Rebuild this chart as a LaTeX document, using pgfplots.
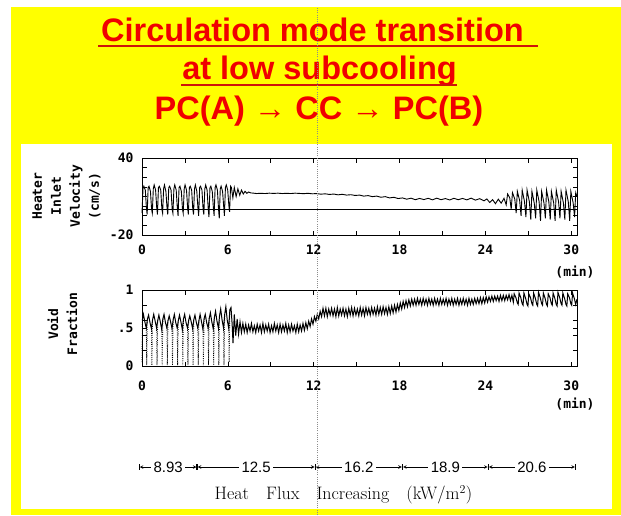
\documentclass[border=0pt]{standalone}
\usepackage{pgfplots}
\pgfplotsset{compat=1.18}
\usepackage{fontspec}
\newfontfamily\titlefont{Liberation Sans}
\newfontfamily\monofont{DejaVu Sans Mono}
\newfontfamily\hfsans{Liberation Sans}
\definecolor{yellowbg}{RGB}{255,255,0}
\definecolor{titlered}{RGB}{240,0,0}
\definecolor{ulred}{RGB}{205,20,10}
\newcommand\tickfont{\monofont\bfseries\fontsize{13}{15}\selectfont}
\newcommand\labfont{\monofont\bfseries\fontsize{13}{19}\selectfont}
\pgfplotsset{
  chartax/.style={
    scale only axis, width=435pt,
    xmin=0, xmax=30.4,
    xtick={0,6,12,18,24,30}, xticklabels={0,6,12,18,24,30},
    minor xtick={3,9,15,21,27},
    tick align=inside,
    major tick length=4.5pt, minor tick length=4.5pt,
    tick style={black, line width=0.7pt},
    axis line style={black, line width=0.9pt},
    ticklabel style={font=\tickfont},
    yticklabel style={xshift=-5pt},
    clip=false,
    unbounded coords=jump,
  }
}
\begin{document}
\begin{tikzpicture}[x=1pt,y=1pt]
\useasboundingbox (0,0) rectangle (621,515);
\fill[white] (0,0) rectangle (621,515);
\fill[yellowbg] (11,0) rectangle (621,508);
\fill[white] (21,6) rectangle (612,371);
% title
\node[anchor=base, inner sep=0, text=titlered, font=\titlefont\bfseries\fontsize{32.5}{38}\selectfont] at (312.5,473) {Circulation mode transition};
\draw[ulred, line width=2.5pt] (98,469) -- (538,469);
\node[anchor=base, inner sep=0, text=titlered, font=\titlefont\bfseries\fontsize{32.5}{38}\selectfont] at (319.5,435) {at low subcooling};
\draw[ulred, line width=2.5pt] (181,430) -- (457,430);
\node[anchor=base, inner sep=0, text=titlered, font=\titlefont\bfseries\fontsize{32.5}{38}\selectfont] at (319,395) {PC(A) → CC → PC(B)};

% velocity axis
\begin{axis}[chartax, at={(142pt,280pt)}, anchor=south west, height=77pt,
  ymin=-20, ymax=40, ytick={-20,40}, yticklabels={-20,40},
  minor ytick={-12.5,-5,2.5,10,17.5,25,32.5},
  xticklabel style={yshift=-6.5pt}]
\addplot[black, line width=0.8pt] coordinates {(0,0) (30.4,0)};
\addplot[black, line width=0.9pt] table[row sep=\\] {t v\\
0.00 -3\\ 0.07 16\\ 0.13 18\\ 0.23 15\\ 0.31 1\\
0.36 -4\\ 0.43 17\\ 0.49 18\\ 0.59 14\\ 0.67 0\\
0.72 -3\\ 0.79 16\\ 0.85 19\\ 0.95 15\\ 1.03 1\\
1.08 -4\\ 1.15 17\\ 1.21 18\\ 1.31 15\\ 1.39 0\\
1.44 -3\\ 1.51 16\\ 1.57 19\\ 1.67 14\\ 1.75 1\\
1.80 -4\\ 1.87 17\\ 1.93 18\\ 2.03 15\\ 2.11 0\\
2.16 -3\\ 2.23 16\\ 2.29 19\\ 2.39 15\\ 2.47 1\\
2.52 -5\\ 2.59 17\\ 2.65 18\\ 2.75 14\\ 2.83 0\\
2.88 -3\\ 2.95 16\\ 3.01 19\\ 3.11 15\\ 3.19 1\\
3.24 -4\\ 3.31 17\\ 3.37 18\\ 3.47 15\\ 3.55 0\\
3.60 -4\\ 3.67 16\\ 3.73 19\\ 3.83 14\\ 3.91 1\\
3.96 -5\\ 4.03 17\\ 4.09 18\\ 4.19 15\\ 4.27 0\\
4.32 -4\\ 4.39 16\\ 4.45 19\\ 4.55 15\\ 4.63 0\\
4.68 -6\\ 4.75 17\\ 4.81 18\\ 4.91 14\\ 4.99 1\\
5.04 -5\\ 5.11 17\\ 5.17 19\\ 5.27 15\\ 5.35 0\\
5.40 -7\\ 5.47 16\\ 5.53 18\\ 5.63 14\\ 5.71 2\\
5.76 -5\\ 5.83 17\\ 5.89 19\\ 5.99 15\\ 6.07 3\\
6.12 -2\\ 6.19 18\\ 6.25 17\\ 6.35 9\\ 6.45 17\\ 6.58 10\\ 6.70 16\\ 6.83 11\\
6.95 15\\ 7.08 12\\ 7.20 14\\ 7.33 12.5\\ 7.45 13.5\\ 7.60 12.8\\
7.80 12.6\\ 8.00 12.3\\ 8.30 12.5\\ 8.60 12.3\\ 8.90 12.6\\ 9.20 12.4\\ 9.50 12.6\\ 9.80 12.3\\
10.10 12.5\\ 10.40 12.3\\ 10.70 12.6\\ 11.00 12.4\\ 11.30 12.2\\ 11.60 12.5\\ 11.90 12.1\\ 12.20 12.3\\
12.50 11.8\\ 12.80 12.1\\ 13.10 11.6\\ 13.40 11.9\\ 13.70 11.3\\ 14.00 11.7\\ 14.30 11.1\\ 14.60 11.4\\
14.90 10.8\\ 15.20 11.1\\ 15.50 10.3\\ 15.80 10.7\\ 16.10 9.9\\ 16.40 10.3\\ 16.70 9.4\\ 17.00 9.9\\
17.30 8.9\\ 17.60 9.4\\ 17.90 8.4\\ 18.20 8.9\\ 18.50 7.9\\ 18.80 8.7\\ 19.10 7.5\\ 19.40 8.5\\
19.70 7.6\\ 20.00 8.6\\ 20.30 7.4\\ 20.60 8.7\\ 20.90 7.5\\ 21.20 8.4\\ 21.50 7.3\\ 21.80 8.6\\
22.10 7.5\\ 22.40 8.5\\ 22.70 7.4\\ 23.00 8.7\\ 23.30 7.2\\ 23.60 8.3\\ 23.90 6.6\\ 24.10 8.1\\
24.30 5.3\\ 24.50 7.6\\ 24.70 4.4\\ 24.90 7.9\\ 25.10 4.8\\ 25.30 8.6\\ 25.45 3.5\\
25.55 12\\ 25.70 9\\ 25.80 0\\
25.89 13\\ 26.05 8\\ 26.15 -3\\
26.23 14\\ 26.39 7\\ 26.49 -5\\
26.57 15\\ 26.73 6\\ 26.83 -6\\
26.91 15\\ 27.07 6\\ 27.17 -8\\
27.25 14\\ 27.41 5\\ 27.51 -7\\
27.59 15\\ 27.75 6\\ 27.85 -9\\
27.93 14\\ 28.09 5\\ 28.19 -7\\
28.27 15\\ 28.43 6\\ 28.53 -8\\
28.61 14\\ 28.77 5\\ 28.87 -9\\
28.95 15\\ 29.11 6\\ 29.21 -7\\
29.29 14\\ 29.45 5\\ 29.55 -8\\
29.63 15\\ 29.79 6\\ 29.89 -9\\
29.97 14\\ 30.13 5\\ 30.23 -6\\
30.31 13\\ 30.40 10\\
};
\end{axis}

% void fraction axis
\begin{axis}[chartax, at={(142pt,149pt)}, anchor=south west, height=76pt,
  ymin=0, ymax=1, ytick={0,0.5,1}, yticklabels={0,.5,1},
  minor ytick={0.2,0.4,0.6,0.8},
  xticklabel style={yshift=-11.5pt}]
% dotted drops of PC(A)
\addplot[black, line width=0.8pt, dash pattern=on 0.8pt off 1.4pt] table[row sep=\\] {t a\\
0.00 0.05\\ 0.02 0.60\\ 0.03 nan\\
0.30 0.50\\ 0.33 0.01\\ 0.38 0.62\\ 0.39 nan\\
0.66 0.49\\ 0.69 0.01\\ 0.74 0.61\\ 0.75 nan\\
1.02 0.50\\ 1.05 0.01\\ 1.10 0.60\\ 1.11 nan\\
1.38 0.48\\ 1.41 0.01\\ 1.46 0.62\\ 1.47 nan\\
1.74 0.50\\ 1.77 0.01\\ 1.82 0.60\\ 1.83 nan\\
2.10 0.49\\ 2.13 0.01\\ 2.18 0.61\\ 2.19 nan\\
2.46 0.50\\ 2.49 0.01\\ 2.54 0.60\\ 2.55 nan\\
2.82 0.48\\ 2.85 0.01\\ 2.90 0.62\\ 2.91 nan\\
3.18 0.50\\ 3.21 0.01\\ 3.26 0.60\\ 3.27 nan\\
3.54 0.49\\ 3.57 0.01\\ 3.62 0.61\\ 3.63 nan\\
3.90 0.50\\ 3.93 0.01\\ 3.98 0.60\\ 3.99 nan\\
4.26 0.48\\ 4.29 0.01\\ 4.34 0.62\\ 4.35 nan\\
4.62 0.50\\ 4.65 0.01\\ 4.70 0.63\\ 4.71 nan\\
4.98 0.49\\ 5.01 0.01\\ 5.06 0.64\\ 5.07 nan\\
5.34 0.50\\ 5.37 0.01\\ 5.42 0.66\\ 5.43 nan\\
5.70 0.50\\ 5.73 0.01\\ 5.78 0.68\\ 5.79 nan\\
6.06 0.50\\ 6.09 0.05\\ 6.14 0.74\\
};
\addplot[black, line width=1.0pt] table[row sep=\\] {t a\\
0.02 0.60\\ 0.10 0.68\\ 0.20 0.58\\ 0.30 0.50\\
0.38 0.62\\ 0.46 0.67\\ 0.56 0.57\\ 0.66 0.49\\
0.74 0.61\\ 0.82 0.68\\ 0.92 0.59\\ 1.02 0.50\\
1.10 0.60\\ 1.18 0.67\\ 1.28 0.58\\ 1.38 0.48\\
1.46 0.62\\ 1.54 0.68\\ 1.64 0.57\\ 1.74 0.50\\
1.82 0.60\\ 1.90 0.66\\ 2.00 0.58\\ 2.10 0.49\\
2.18 0.61\\ 2.26 0.68\\ 2.36 0.57\\ 2.46 0.50\\
2.54 0.60\\ 2.62 0.67\\ 2.72 0.58\\ 2.82 0.48\\
2.90 0.62\\ 2.98 0.68\\ 3.08 0.57\\ 3.18 0.50\\
3.26 0.60\\ 3.34 0.66\\ 3.44 0.58\\ 3.54 0.49\\
3.62 0.61\\ 3.70 0.67\\ 3.80 0.57\\ 3.90 0.50\\
3.98 0.60\\ 4.06 0.68\\ 4.16 0.58\\ 4.26 0.48\\
4.34 0.62\\ 4.42 0.68\\ 4.52 0.57\\ 4.62 0.50\\
4.70 0.63\\ 4.78 0.70\\ 4.88 0.58\\ 4.98 0.49\\
5.06 0.64\\ 5.14 0.72\\ 5.24 0.59\\ 5.34 0.50\\
5.42 0.66\\ 5.50 0.75\\ 5.60 0.60\\ 5.70 0.50\\
5.78 0.68\\ 5.86 0.78\\ 5.96 0.60\\ 6.06 0.50\\
6.14 0.74\\ 6.22 0.77\\ 6.30 0.55\\ 6.36 0.30\\ 6.45 0.68\\ 6.55 0.40\\ 6.65 0.62\\ 6.75 0.42\\
6.85 0.58\\ 6.95 0.44\\ 7.05 0.56\\
7.15 0.45\\ 7.25 0.55\\ 7.35 0.44\\ 7.45 0.54\\ 7.55 0.46\\ 7.65 0.56\\ 7.75 0.45\\ 7.85 0.53\\
7.95 0.44\\ 8.05 0.55\\ 8.15 0.46\\ 8.25 0.54\\ 8.35 0.44\\ 8.45 0.56\\ 8.55 0.45\\ 8.65 0.54\\
8.75 0.46\\ 8.85 0.55\\ 8.95 0.44\\ 9.05 0.53\\ 9.15 0.45\\ 9.25 0.56\\ 9.35 0.46\\ 9.45 0.54\\
9.55 0.44\\ 9.65 0.55\\ 9.75 0.45\\ 9.85 0.54\\ 9.95 0.46\\ 10.05 0.56\\ 10.15 0.44\\ 10.25 0.54\\
10.35 0.45\\ 10.45 0.55\\ 10.55 0.46\\ 10.65 0.53\\ 10.75 0.44\\ 10.85 0.55\\ 10.95 0.45\\ 11.05 0.54\\
11.15 0.46\\ 11.25 0.56\\ 11.35 0.47\\
11.45 0.57\\ 11.55 0.49\\ 11.65 0.59\\ 11.75 0.52\\ 11.85 0.62\\ 11.95 0.55\\ 12.05 0.65\\ 12.15 0.59\\
12.25 0.68\\ 12.35 0.62\\ 12.45 0.72\\ 12.55 0.65\\
12.65 0.76\\ 12.75 0.66\\ 12.85 0.76\\ 12.95 0.65\\ 13.05 0.75\\ 13.15 0.67\\ 13.25 0.76\\ 13.35 0.66\\
13.45 0.75\\ 13.55 0.65\\ 13.65 0.77\\ 13.75 0.66\\ 13.85 0.75\\ 13.95 0.67\\ 14.05 0.76\\ 14.15 0.66\\
14.25 0.75\\ 14.35 0.65\\ 14.45 0.76\\ 14.55 0.67\\ 14.65 0.77\\ 14.75 0.66\\ 14.85 0.76\\ 14.95 0.67\\
15.05 0.75\\ 15.15 0.66\\ 15.25 0.77\\ 15.35 0.67\\ 15.45 0.76\\ 15.55 0.66\\ 15.65 0.77\\ 15.75 0.68\\
15.85 0.76\\ 15.95 0.67\\ 16.05 0.77\\ 16.15 0.68\\ 16.25 0.76\\ 16.35 0.67\\ 16.45 0.78\\ 16.55 0.68\\
16.65 0.77\\ 16.75 0.68\\ 16.85 0.78\\ 16.95 0.69\\ 17.05 0.77\\ 17.15 0.68\\ 17.25 0.78\\ 17.35 0.69\\
17.45 0.79\\ 17.55 0.70\\
17.65 0.80\\ 17.75 0.71\\ 17.85 0.81\\ 17.95 0.73\\ 18.05 0.83\\ 18.15 0.75\\ 18.25 0.85\\ 18.35 0.77\\
18.45 0.86\\ 18.55 0.78\\ 18.65 0.87\\ 18.75 0.79\\ 18.85 0.88\\ 18.95 0.80\\
19.05 0.88\\ 19.15 0.80\\ 19.25 0.89\\ 19.35 0.81\\ 19.45 0.88\\ 19.55 0.80\\ 19.65 0.89\\ 19.75 0.81\\
19.85 0.88\\ 19.95 0.80\\ 20.05 0.89\\ 20.15 0.81\\ 20.25 0.88\\ 20.35 0.80\\ 20.45 0.89\\ 20.55 0.81\\
20.65 0.88\\ 20.75 0.80\\ 20.85 0.89\\ 20.95 0.81\\ 21.05 0.88\\ 21.15 0.81\\ 21.25 0.89\\ 21.35 0.80\\
21.45 0.88\\ 21.55 0.81\\ 21.65 0.89\\ 21.75 0.80\\ 21.85 0.88\\ 21.95 0.81\\ 22.05 0.89\\ 22.15 0.80\\
22.25 0.88\\ 22.35 0.81\\ 22.45 0.89\\ 22.55 0.81\\ 22.65 0.88\\ 22.75 0.80\\ 22.85 0.89\\ 22.95 0.81\\
23.05 0.88\\ 23.15 0.81\\ 23.25 0.89\\ 23.35 0.82\\ 23.45 0.89\\ 23.55 0.82\\ 23.65 0.90\\ 23.75 0.82\\
23.85 0.90\\ 23.95 0.83\\
24.05 0.91\\ 24.15 0.84\\ 24.25 0.91\\ 24.35 0.85\\ 24.45 0.92\\ 24.55 0.85\\ 24.65 0.92\\ 24.75 0.86\\
24.85 0.92\\ 24.95 0.85\\ 25.05 0.93\\ 25.15 0.86\\ 25.25 0.93\\ 25.35 0.86\\ 25.45 0.93\\ 25.55 0.87\\
25.65 0.94\\ 25.75 0.86\\ 25.85 0.93\\
25.95 0.84\\ 26.01 0.95\\ 26.13 0.90\\ 26.23 0.83\\
26.29 0.81\\ 26.35 0.96\\ 26.47 0.90\\ 26.57 0.82\\
26.63 0.80\\ 26.69 0.96\\ 26.81 0.89\\ 26.91 0.81\\
26.97 0.79\\ 27.03 0.95\\ 27.15 0.90\\ 27.25 0.82\\
27.31 0.80\\ 27.37 0.96\\ 27.49 0.89\\ 27.59 0.81\\
27.65 0.79\\ 27.71 0.97\\ 27.83 0.90\\ 27.93 0.82\\
27.99 0.80\\ 28.05 0.96\\ 28.17 0.89\\ 28.27 0.81\\
28.33 0.79\\ 28.39 0.95\\ 28.51 0.90\\ 28.61 0.82\\
28.67 0.80\\ 28.73 0.96\\ 28.85 0.89\\ 28.95 0.81\\
29.01 0.79\\ 29.07 0.97\\ 29.19 0.90\\ 29.29 0.82\\
29.35 0.80\\ 29.41 0.96\\ 29.53 0.89\\ 29.63 0.81\\
29.69 0.79\\ 29.75 0.95\\ 29.87 0.90\\ 29.97 0.82\\
30.03 0.80\\ 30.09 0.96\\ 30.21 0.89\\ 30.31 0.81\\ 30.40 0.88\\
};
% heat flux steps
\begin{scope}[line width=0.6pt, >=stealth]
\draw[|<->|] (axis cs:-0.2,-1.329) -- (axis cs:3.85,-1.329) node[midway, fill=white, inner sep=2.5pt, font=\hfsans\fontsize{15}{17}\selectfont] {8.93};
\draw[|<->|] (axis cs:3.85,-1.329) -- (axis cs:12.1,-1.329) node[midway, fill=white, inner sep=2.5pt, font=\hfsans\fontsize{15}{17}\selectfont] {12.5};
\draw[|<->|] (axis cs:12.1,-1.329) -- (axis cs:18.2,-1.329) node[midway, fill=white, inner sep=2.5pt, font=\hfsans\fontsize{15}{17}\selectfont] {16.2};
\draw[|<->|] (axis cs:18.2,-1.329) -- (axis cs:24.2,-1.329) node[midway, fill=white, inner sep=2.5pt, font=\hfsans\fontsize{15}{17}\selectfont] {18.9};
\draw[|<->|] (axis cs:24.2,-1.329) -- (axis cs:30.3,-1.329) node[midway, fill=white, inner sep=2.5pt, font=\hfsans\fontsize{15}{17}\selectfont] {20.6};
\end{scope}
\node[anchor=base, inner sep=0, font=\fontsize{18}{21}\selectfont] at (axis cs:14.08,-1.763) {Heat\hspace{0.95em}Flux\hspace{0.95em}Increasing\hspace{0.95em}(kW/m$^{2}$)};
\end{axis}

% axis labels
\node[rotate=90, align=center, font=\labfont] at (66.5,319) {Heater\\Inlet\\Velocity\\(cm/s)};
\node[rotate=90, align=center, font=\labfont] at (62.5,191) {Void\\Fraction};
\node[font=\labfont] at (575,243) {(min)};
\node[font=\labfont] at (575,111) {(min)};

% dotted marker line
\draw[black!45, line width=1.1pt, dash pattern=on 1pt off 1.2pt] (317.5,0) -- (317.5,508);
\end{tikzpicture}
\end{document}
